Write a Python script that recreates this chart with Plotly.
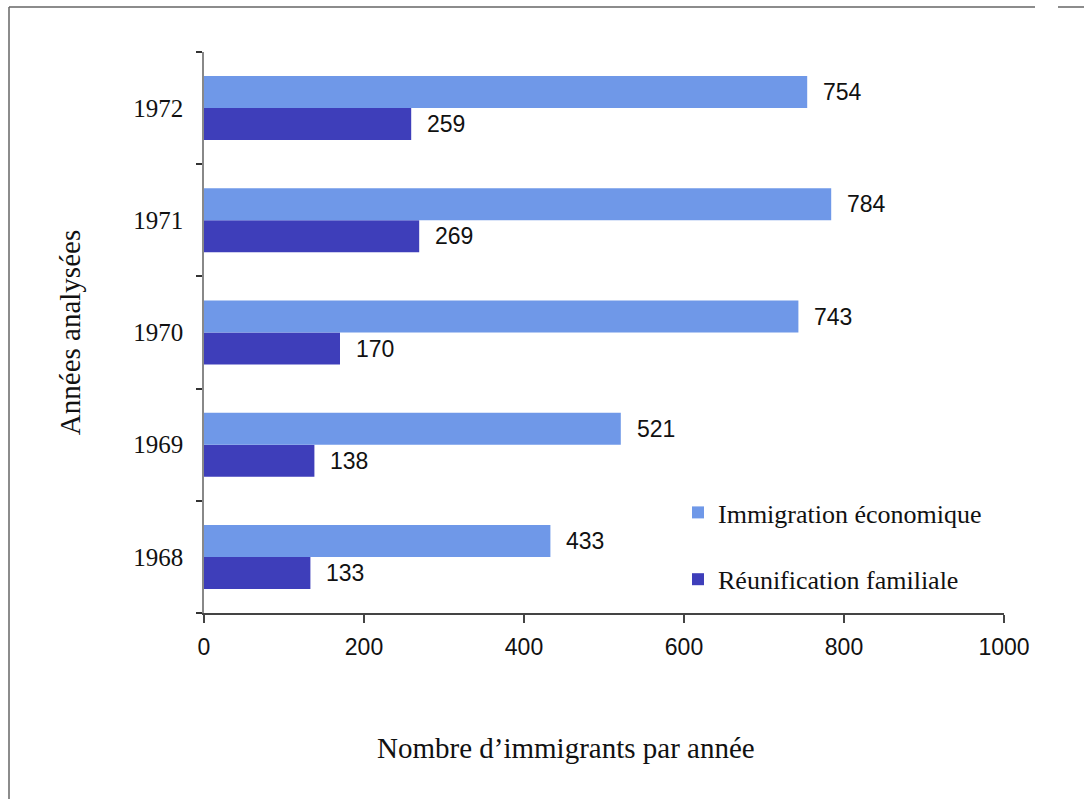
import plotly.graph_objects as go

years = ["1968", "1969", "1970", "1971", "1972"]
economique = [433, 521, 743, 784, 754]
familiale = [133, 138, 170, 269, 259]
x_ticks = [0, 200, 400, 600, 800, 1000]

LIGHT = "#6F98E8"
DARK = "#3E3EBA"
SERIF = "Liberation Serif, Times New Roman, serif"
NARROW = "Liberation Sans Narrow, Arial Narrow, Liberation Sans, Arial, sans-serif"

fig = go.Figure()
fig.add_trace(go.Bar(
    y=years, x=familiale, orientation="h", name="Réunification familiale",
    marker=dict(color=DARK, line=dict(width=0)), legendgroup="b", legendrank=2,
))
fig.add_trace(go.Bar(
    y=years, x=economique, orientation="h", name="Immigration économique",
    marker=dict(color=LIGHT, line=dict(width=0)), legendgroup="a", legendrank=1,
))

L, R, T, B = 204, 80, 52, 186
W, H = 1084, 799
pw, ph = W - L - R, H - T - B

def px(x):
    return (x - L) / pw

def py(y):
    return (H - B - y) / ph

annotations = []
for i, y in enumerate(years):
    annotations.append(dict(x=economique[i], y=i, yshift=16, xshift=14, text=str(economique[i]),
                            xanchor="left", yanchor="middle", showarrow=False,
                            font=dict(family=NARROW, size=23, color="#111")))
    annotations.append(dict(x=familiale[i], y=i, yshift=-16, xshift=14, text=str(familiale[i]),
                            xanchor="left", yanchor="middle", showarrow=False,
                            font=dict(family=NARROW, size=23, color="#111")))
annotations.append(dict(xref="paper", yref="paper", x=px(566), y=py(748),
                        xanchor="center", yanchor="middle", showarrow=False,
                        text="Nombre d’immigrants par année",
                        font=dict(family=SERIF, size=29, color="#111")))

shapes = [
    dict(type="line", xref="paper", yref="paper", x0=px(9), x1=px(1035), y0=py(7), y1=py(7),
         line=dict(color="#666", width=1.5)),
    dict(type="line", xref="paper", yref="paper", x0=px(1058), x1=px(1084), y0=py(7), y1=py(7),
         line=dict(color="#666", width=1.5)),
    dict(type="line", xref="paper", yref="paper", x0=px(9), x1=px(9), y0=py(7), y1=py(799),
         line=dict(color="#666", width=1.5)),
]

fig.update_layout(
    width=W, height=H,
    margin=dict(l=L, r=R, t=T, b=B, autoexpand=False),
    paper_bgcolor="white", plot_bgcolor="white",
    barmode="group", bargap=0.43, bargroupgap=0,
    annotations=annotations, shapes=shapes,
    showlegend=True,
    legend=dict(
        x=px(678), y=py(489), xanchor="left", yanchor="top",
        traceorder="grouped", tracegroupgap=30,
        font=dict(family=SERIF, size=26, color="#111"),
        bgcolor="rgba(0,0,0,0)", itemwidth=30,
    ),
    xaxis=dict(
        range=[0, 1000], tickvals=x_ticks, ticktext=[str(v) for v in x_ticks],
        showgrid=False, zeroline=False, showline=True, linecolor="#444", linewidth=1.5,
        ticks="outside", ticklen=8, tickcolor="#444", tickwidth=1.5,
        ticklabelstandoff=5,
        tickfont=dict(family=NARROW, size=23, color="#111"),
    ),
    yaxis=dict(
        type="category", categoryorder="array", categoryarray=years, range=[-0.5, 4.5],
        showgrid=False, zeroline=False, showline=True, linecolor="#888", linewidth=1.5,
        ticks="outside", tickson="boundaries", ticklen=6, tickcolor="#333", tickwidth=1.5,
        ticklabelstandoff=14,
        tickfont=dict(family=SERIF, size=25, color="#111"),
        title=dict(text="Années analysées", standoff=44,
                   font=dict(family=SERIF, size=29, color="#111")),
    ),
)

fig.write_html("out.html")
